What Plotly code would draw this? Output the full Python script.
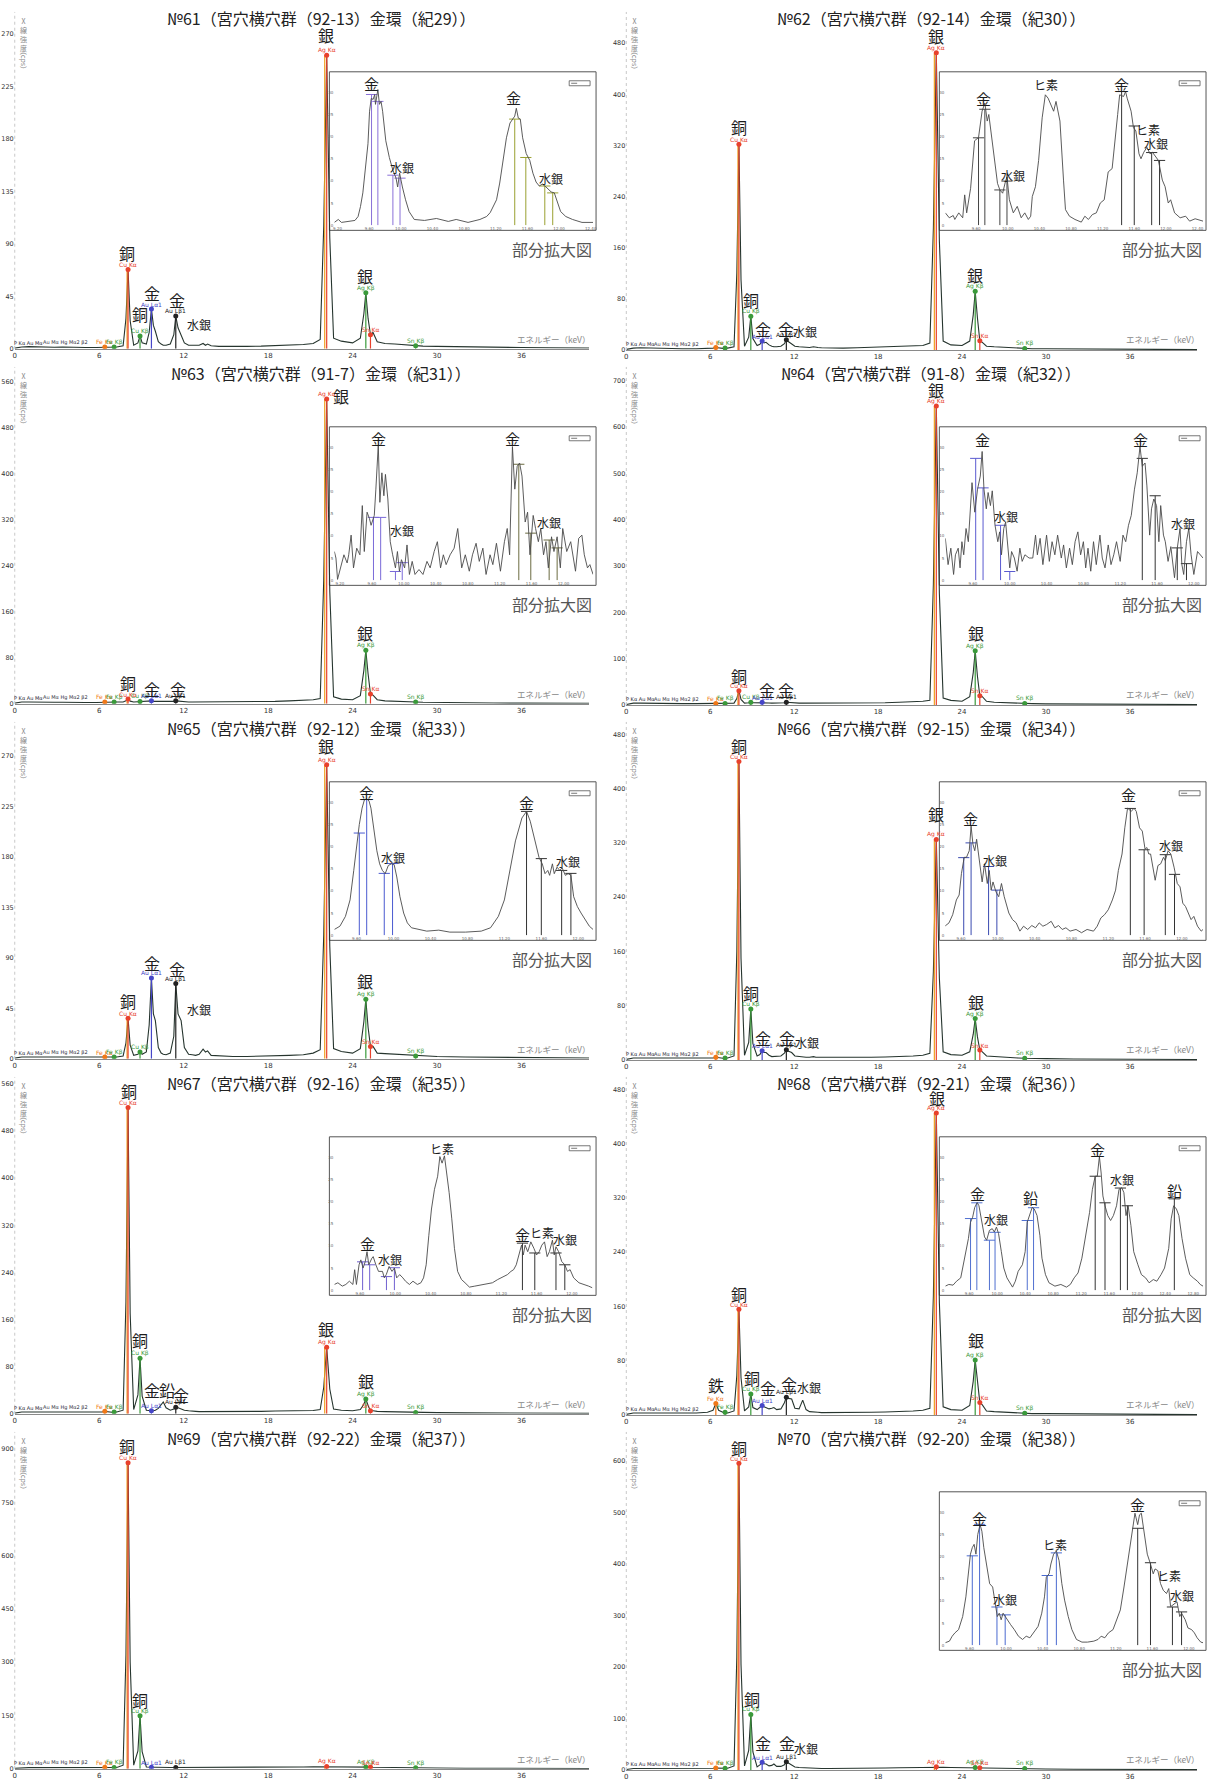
import plotly.graph_objects as go

W, H = 1216, 1781
ROW = 356
JP = "Noto Sans CJK JP"

# ---------------- main spectra (energy keV / counts cps) ----------------
E_MAIN = [0.0, 0.5, 1.0, 1.6, 2.2, 2.8, 3.4, 4.0, 5.0, 5.8,
          6.2, 6.4, 6.6, 6.9, 7.06, 7.25, 7.7, 7.9, 8.05, 8.2,
          8.45, 8.75, 8.9, 9.05, 9.35, 9.55, 9.71, 9.85, 9.99, 10.2,
          10.4, 10.55, 10.75, 11.05, 11.3, 11.44, 11.6, 11.82, 12.05, 12.35,
          12.61, 12.85, 13.1, 13.38, 13.55, 13.7, 13.95, 14.5, 15.5, 16.5,
          17.5, 18.5, 19.5, 20.5, 21.2, 21.7, 21.95, 22.16, 22.38, 22.65,
          23.2, 24.0, 24.55, 24.8, 24.94, 25.1, 25.27, 25.45, 25.75, 26.3,
          27.0, 28.0, 28.48, 29.0, 30.0, 32.0, 34.0, 36.0, 38.0, 40.8]

C61 = [0.5, 1.5, 1.8, 1.5, 1.6, 1.3, 1.5, 1.2, 1.0, 1.0,
       1.2, 1.5, 1.2, 1.2, 1.5, 1.5, 2.5, 26, 68, 24,
       3, 5, 11, 5, 4, 14, 34, 20, 15, 6,
       4, 3, 3, 4, 12, 28, 18, 11, 5, 3,
       3, 2.5, 3, 4.5, 3, 4, 2.5, 2, 1.8, 2,
       2.2, 2.6, 3, 3.6, 4.5, 8, 105, 252, 95, 9,
       6.5, 5, 9, 30, 48, 26, 12, 14, 6, 4.5,
       4, 3, 2.5, 2.2, 2, 1.5, 1.2, 1, 0.8, 0.6]
C62 = [1, 3, 3.5, 3, 3, 2.5, 2.5, 2, 2, 2,
       3, 4, 3, 2.5, 3, 3, 5, 120, 322, 110,
       6, 20, 53, 18, 7, 9, 14, 11, 12, 8,
       6, 5, 5, 6, 10, 16, 13, 9, 6, 5,
       4.5, 4, 4, 5, 4, 4, 3.5, 3, 3, 3.5,
       4, 4.5, 5, 6, 7, 11, 190, 465, 170, 14,
       8, 7, 14, 55, 92, 50, 14.5, 12, 6, 5,
       4, 3, 2.5, 2, 2, 1.5, 1.2, 1, 1, 0.8]
C63 = [1, 3, 3, 2.5, 3, 2.5, 2.5, 2, 2, 2,
       2.5, 3, 2.5, 2.5, 3, 3, 3, 5, 8, 4.5,
       3, 3.5, 4, 3.5, 3.5, 4, 5, 4, 4, 3.5,
       3, 3, 3, 3.5, 4, 5, 4.5, 4, 3.5, 3,
       3, 3, 3, 3, 3, 3, 3, 3, 3, 3.5,
       4, 4, 5, 6, 7, 9, 215, 530, 195, 12,
       8, 7, 14, 58, 93, 52, 17, 15, 7, 5,
       4, 3.5, 3, 2.5, 2, 1.5, 1.2, 1, 1, 0.8]
C64 = [1, 4, 4, 3.5, 3.5, 3, 3, 3, 3, 3,
       3, 3.5, 3, 3, 3.5, 3, 4, 14, 31, 12,
       4, 5, 6, 5, 5, 5.5, 6, 5.5, 5, 4.5,
       4, 4, 4, 4.5, 5, 6, 5.5, 5, 4.5, 4,
       4, 4, 4, 4, 4, 4, 4, 3.5, 3.5, 4,
       4.5, 5, 6, 7, 8, 10, 260, 645, 240, 15,
       10, 8, 18, 70, 117, 62, 20, 18, 8, 6,
       5, 4, 3.5, 3, 2.5, 2, 1.5, 1.2, 1, 1]
C65 = [0.5, 1.5, 1.5, 1.5, 1.8, 1.5, 1.5, 1.2, 1.2, 1.2,
       1.2, 1.5, 1.2, 1.2, 1.5, 1.5, 2.5, 14, 36, 12,
       3, 4, 6, 4, 6, 30, 72, 40, 34, 10,
       5, 4, 3.5, 5, 20, 67, 40, 34, 10, 4,
       3.5, 3, 4, 8.6, 6, 7, 3, 2.5, 2, 2,
       2.2, 2.6, 3, 3.6, 5, 8, 110, 262, 100, 9,
       6.5, 5, 9, 33, 53, 28, 11, 11, 5, 4.5,
       4, 3, 2.5, 2.2, 2, 1.5, 1.2, 1, 0.8, 0.6]
C66 = [1, 3, 3, 3, 3, 2.5, 2.5, 2, 2, 2,
       3, 4, 3, 2.5, 3, 3, 6, 160, 440, 150,
       7, 26, 75, 24, 6, 8, 13.7, 11, 11, 7,
       5, 5, 5, 6, 10, 15, 13, 11, 6, 5,
       5, 4, 4, 5, 4, 4, 3.5, 3, 3, 3.5,
       4, 4.5, 5, 6, 7, 10, 130, 325, 120, 12,
       8, 7, 12, 38, 61, 34, 14.7, 12, 6, 5,
       4, 3, 2.5, 2, 2, 1.5, 1.2, 1, 1, 0.8]
C67 = [1, 3, 3, 3, 3, 2.5, 2.5, 2, 2, 2,
       3, 4, 3, 2.5, 3, 3, 6, 190, 520, 170,
       7, 32, 94, 30, 6, 5, 5, 5, 6, 9,
       15, 20, 10, 6, 8, 11, 10, 8, 6, 5,
       5, 4, 3.5, 3.5, 3, 3, 3, 3, 3, 3.5,
       4, 4.5, 5, 5, 5.5, 7, 45, 113, 42, 8,
       6, 5, 7, 16, 25, 14, 5, 5, 4, 3.5,
       3, 2.5, 2.2, 2, 1.8, 1.5, 1.2, 1, 1, 0.8]
C68 = [1, 3, 3, 3, 3, 2.5, 2.5, 2.5, 3, 4,
       7, 17, 7, 4, 4, 3, 6, 58, 156, 55,
       6, 12, 31, 11, 8, 12, 14, 12, 11, 9,
       10, 11, 8, 9, 18, 26, 24.5, 23.5, 10, 9,
       22, 8, 5, 5, 4, 4, 3.5, 3.5, 3, 3.5,
       4, 4.5, 5, 6, 7, 10, 175, 445, 165, 12,
       8, 7, 14, 50, 81, 45, 18.6, 15, 6, 5,
       4, 3, 2.5, 2, 2, 1.5, 1.2, 1, 1, 0.8]
C69 = [1, 3, 3, 3, 3, 2.5, 2.5, 2.5, 2.5, 3,
       3.5, 4, 3.5, 3, 3.5, 3.5, 10, 320, 862, 300,
       10, 50, 149, 48, 5, 4, 4, 4, 4, 3.5,
       3.5, 3.5, 3.5, 3.5, 3.5, 3.5, 3.5, 3.5, 3.5, 3.5,
       3.5, 3, 3, 3, 3, 3, 3, 3, 3, 3.5,
       4, 4, 4.5, 5, 5.5, 5.5, 6, 6.5, 6, 5.5,
       5, 4.5, 4.5, 4.7, 4.7, 4.5, 4.5, 4, 4, 3.5,
       3, 3, 3, 2.5, 2, 1.5, 1.2, 1, 1, 0.8]
C70 = [1, 3, 3, 3, 3, 2.5, 2.5, 2.5, 2.5, 3,
       3.5, 4, 3.5, 3, 3.5, 3.5, 8, 220, 596, 205,
       8, 38, 108, 35, 6, 10, 15, 12, 11.6, 8,
       9, 11.6, 7, 7, 10, 16, 13, 10, 6, 5,
       4.5, 4, 3.5, 3.5, 3.5, 3.5, 3, 3, 3, 3.5,
       4, 4, 4.5, 5, 5.5, 6, 6.5, 6.5, 6, 5.5,
       5, 4.5, 4.5, 5, 5, 4.5, 4.5, 4, 4, 3.5,
       3, 3, 3, 2.5, 2, 1.5, 1.2, 1, 1, 0.8]

TITLES = ["№61（宮穴横穴群（92-13）金環（紀29））", "№62（宮穴横穴群（92-14）金環（紀30））",
          "№63（宮穴横穴群（91-7）金環（紀31））", "№64（宮穴横穴群（91-8）金環（紀32））",
          "№65（宮穴横穴群（92-12）金環（紀33））", "№66（宮穴横穴群（92-15）金環（紀34））",
          "№67（宮穴横穴群（92-16）金環（紀35））", "№68（宮穴横穴群（92-21）金環（紀36））",
          "№69（宮穴横穴群（92-22）金環（紀37））", "№70（宮穴横穴群（92-20）金環（紀38））"]

Y_STEP = [45, 80, 80, 100, 45, 80, 80, 80, 150, 100]
Y_TOP = [270, 480, 560, 700, 270, 480, 560, 480, 900, 600]
X_TICKS = [0, 6, 12, 18, 24, 30, 36]

# element labels: (text, energy, counts, font size)
L61 = [("銀", 22.1, 267, 16), ("銅", 8.0, 80, 16), ("銅", 8.88, 27, 16), ("金", 9.78, 45, 16),
       ("金", 11.56, 39, 16), ("水銀", 13.07, 18, 12), ("銀", 24.91, 60, 16)]
L62 = [("銀", 22.13, 486, 16), ("銅", 8.05, 344, 16), ("銅", 8.9, 73, 16), ("金", 9.78, 28, 16),
       ("金", 11.44, 28, 16), ("水銀", 12.8, 24, 12), ("銀", 24.94, 113, 16)]
L63 = [("銀", 23.2, 530, 16), ("銅", 8.06, 31, 16), ("金", 9.73, 20, 16), ("金", 11.59, 20, 16),
       ("銀", 24.91, 117, 16)]
L64 = [("銀", 22.13, 673, 16), ("銅", 8.05, 56, 16), ("金", 10.06, 27, 16), ("金", 11.44, 27, 16),
       ("銀", 24.99, 148, 16)]
L65 = [("銀", 22.1, 276, 16), ("銅", 8.06, 49, 16), ("金", 9.73, 83, 16), ("金", 11.5, 77, 16),
       ("水銀", 13.07, 41, 12), ("銀", 24.91, 67, 16)]
L66 = [("銅", 8.05, 458, 16), ("銀", 22.13, 358, 16), ("銅", 8.9, 94, 16), ("金", 9.78, 28, 16),
       ("金", 11.52, 28, 16), ("水銀", 12.9, 22, 12), ("銀", 24.99, 81, 16)]
L67 = [("銅", 8.14, 543, 16), ("銅", 8.9, 120, 16), ("金", 9.73, 36, 16), ("鉛", 10.83, 36, 16),
       ("金", 11.84, 26, 16), ("銀", 22.1, 138, 16), ("銀", 24.93, 50, 16)]
L68 = [("銀", 22.18, 462, 16), ("銅", 8.08, 174, 16), ("鉄", 6.42, 40, 16), ("銅", 8.98, 50, 16),
       ("金", 10.11, 36, 16), ("金", 11.63, 42, 16), ("水銀", 13.09, 36, 12), ("銀", 25.02, 106, 16)]
L69 = [("銅", 8.0, 900, 16), ("銅", 8.9, 184, 16)]
L70 = [("銅", 8.08, 620, 16), ("銅", 8.96, 133, 16), ("金", 9.78, 47, 16), ("金", 11.49, 47, 16),
       ("水銀", 12.87, 36, 12)]

# characteristic lines marked in the main spectra
ML_NAMES = ["Fe Kα", "Fe Kβ", "Cu Kα", "Cu Kβ", "Au Lα1", "Au Lβ1", "Ag Kα", "Ag Kβ", "Sn Kα", "Sn Kβ"]
ML_ENERGY = [6.4, 7.06, 8.05, 8.9, 9.71, 11.44, 22.16, 24.94, 25.27, 28.48]
ML_COLOR = ["#f07818", "#3a9a3a", "#e8412c", "#3a9a3a", "#4646c8", "#222222",
            "#e8412c", "#3a9a3a", "#e8412c", "#3a9a3a"]
KA2_ENERGY = [7.98, 22.02]
KA2_PARENT = [8.05, 22.16]
LOW_TEXT = [("P Kα Au Mα", 1.0, "#223"), ("Au Mα Hg Mα2 β2", 3.6, "#334")]

# observed pixel row (from panel top) of the highest y tick, used to size each y range
Y_TOP_PX = [34.3, 43.3, 26.7, 25.7, 46.0, 24.3, 19.0, 24.3, 29.3, 41.3]

# ---------------- insets (energy keV / relative intensity) ----------------
I61_E = [9.16, 9.21, 9.25, 9.335, 9.42, 9.46, 9.49, 9.52, 9.55, 9.585, 9.605, 9.626, 9.65, 9.67, 9.68,
         9.70, 9.71, 9.73, 9.75, 9.77, 9.79, 9.81, 9.855, 9.90, 9.94, 9.96, 9.985, 10.00, 10.02, 10.06,
         10.105, 10.17, 10.3, 10.45, 10.6, 10.7, 10.85, 11.0, 11.085, 11.13, 11.17, 11.21, 11.25, 11.29,
         11.335, 11.38, 11.41, 11.44, 11.46, 11.485, 11.51, 11.54, 11.585, 11.63, 11.67, 11.71, 11.75,
         11.79, 11.835, 11.90, 11.94, 11.98, 12.02, 12.085, 12.17, 12.29, 12.43]
I61_V = [3, 6, 3, 4, 5, 9, 19, 33, 56, 83, 116, 129, 128, 133, 123, 134, 138, 123, 126, 116, 103, 86,
         69, 56, 48, 39, 53, 46, 39, 26, 14, 6, 5, 7, 4, 6, 3, 6, 9, 13, 19, 26, 43, 66, 89, 104, 108,
         111, 119, 109, 108, 89, 73, 66, 53, 44, 40, 42, 39, 34, 33, 23, 14, 9, 6, 3, 3]
I62_E = [9.21, 9.26, 9.31, 9.33, 9.38, 9.43, 9.455, 9.48, 9.53, 9.58, 9.63, 9.65, 9.675, 9.71, 9.74,
         9.76, 9.80, 9.84, 9.87, 9.90, 9.935, 9.97, 9.99, 10.02, 10.07, 10.12, 10.17, 10.215, 10.26, 10.29,
         10.31, 10.35, 10.39, 10.435, 10.475, 10.51, 10.56, 10.58, 10.61, 10.66, 10.705, 10.73, 10.78,
         10.85, 10.93, 10.975, 11.02, 11.07, 11.12, 11.17, 11.22, 11.27, 11.32, 11.36, 11.39, 11.415,
         11.465, 11.49, 11.51, 11.56, 11.59, 11.62, 11.66, 11.685, 11.72, 11.76, 11.80, 11.83, 11.87,
         11.905, 11.955, 11.99, 12.03, 12.06, 12.11, 12.18, 12.25, 12.30, 12.37, 12.47]
I62_V = [12.7, 7.7, 10, 6, 12.7, 7.7, 31, 12.7, 37.7, 86, 89.3, 99.3, 116, 124.3, 106, 112.7, 86, 59.3,
         42.7, 36, 32.7, 44.3, 49.3, 26, 12.7, 19.3, 7.7, 12.7, 6, 9.3, 29.3, 39.3, 66, 109.3, 132.7,
         129.3, 119.3, 116, 126, 106, 46, 16, 9.3, 6, 3.3, 9.3, 6, 11, 12.7, 22.7, 26, 54.3, 57.7, 86,
         112.7, 132.7, 131, 136, 129.3, 116, 99.3, 96, 72.7, 67.7, 74.3, 79.3, 72.7, 74.3, 69.3, 66, 46,
         39.3, 22.7, 26, 12.7, 7.7, 9.3, 4.3, 6.7, 4.3]
I63_E = [9.13, 9.15, 9.17, 9.21, 9.25, 9.29, 9.31, 9.34, 9.37, 9.41, 9.45, 9.48, 9.505, 9.54, 9.57, 9.59,
         9.63, 9.65, 9.68, 9.70, 9.725, 9.75, 9.77, 9.80, 9.83, 9.86, 9.895, 9.92, 9.945, 9.97, 10.01,
         10.04, 10.07, 10.105, 10.14, 10.19, 10.24, 10.29, 10.33, 10.38, 10.42, 10.46, 10.495, 10.53,
         10.58, 10.63, 10.675, 10.725, 10.77, 10.82, 10.86, 10.905, 10.945, 10.99, 11.03, 11.08, 11.115,
         11.16, 11.21, 11.26, 11.295, 11.325, 11.345, 11.36, 11.39, 11.42, 11.45, 11.48, 11.52, 11.55,
         11.58, 11.62, 11.65, 11.685, 11.715, 11.75, 11.78, 11.81, 11.85, 11.88, 11.92, 11.96, 11.99,
         12.04, 12.09, 12.115, 12.15, 12.19, 12.23, 12.26, 12.30, 12.33, 12.37]
I63_V = [29.3, 22.7, 1, 12.7, 26, 17.7, 26, 46, 12.7, 32.7, 26, 76, 29.3, 69.3, 62.7, 56, 66, 92.7, 137.7,
         79.3, 109.3, 86, 107.7, 82.7, 39.3, 26, 12.7, 29.3, 9.3, 21, 12.7, 36, 6, 19.3, 6, 11, 6, 19.3,
         12.7, 29.3, 39.3, 12.7, 26, 16, 26, 32.7, 52.7, 12.7, 26, 9.3, 26, 37.7, 19.3, 32.7, 6, 26, 16,
         37.7, 9.3, 39.3, 52.7, 26, 86, 136, 92.7, 116, 119.3, 106, 59.3, 69.3, 26, 66, 52.7, 39.3, 52.7,
         26, 39.3, 12.7, 44.3, 29.3, 44.3, 12.7, 52.7, 29.3, 39.3, 26, 9.3, 42.7, 46, 26, 12.7, 16, 6]
I64_E = [9.30, 9.33, 9.36, 9.39, 9.41, 9.44, 9.46, 9.48, 9.50, 9.525, 9.55, 9.57, 9.59, 9.62, 9.65, 9.68,
         9.70, 9.72, 9.745, 9.765, 9.79, 9.81, 9.84, 9.87, 9.89, 9.91, 9.935, 9.955, 9.975, 10.0, 10.02,
         10.05, 10.08, 10.11, 10.135, 10.165, 10.21, 10.25, 10.28, 10.30, 10.33, 10.36, 10.40, 10.43,
         10.46, 10.49, 10.52, 10.56, 10.585, 10.615, 10.65, 10.68, 10.71, 10.74, 10.77, 10.80, 10.825,
         10.85, 10.88, 10.91, 10.94, 10.98, 11.005, 11.035, 11.07, 11.10, 11.13, 11.16, 11.20, 11.23,
         11.26, 11.29, 11.32, 11.355, 11.385, 11.415, 11.44, 11.47, 11.49, 11.52, 11.54, 11.565, 11.595,
         11.62, 11.64, 11.67, 11.69, 11.72, 11.75, 11.78, 11.79, 11.82, 11.85, 11.87, 11.89, 11.92,
         11.945, 11.97, 12.0, 12.04, 12.07, 12.10]
I64_V = [42.7, 16, 32.7, 6, 26, 32.7, 12.7, 39.3, 26, 52.7, 39.3, 69.3, 99.3, 69.3, 92.7, 106, 131, 92.7,
         72.7, 89.3, 76, 91, 56, 39.3, 49.3, 26, 52.7, 59.3, 39.3, 12.7, 29.3, 22.7, 9.3, 32.7, 19.3, 26,
         22.7, 22.7, 46, 26, 42.7, 16, 46, 19.3, 39.3, 26, 46, 22.7, 36, 12.7, 32.7, 16, 39.3, 49.3, 26,
         39.3, 12.7, 32.7, 9.3, 39.3, 16, 46, 22.7, 12.7, 36, 16, 26, 39.3, 19.3, 46, 39.3, 56, 66, 92.7,
         109.3, 136, 116, 119.3, 96, 46, 72.7, 82.7, 76, 39.3, 76, 46, 39.3, 19.3, 34.3, 12.7, 2.7, 32.7,
         52.7, 16, 6, 39.3, 52.7, 26, 6, 29.3, 26, 22.7]
I65_E = [9.36, 9.42, 9.48, 9.53, 9.57, 9.60, 9.63, 9.66, 9.685, 9.71, 9.735, 9.756, 9.785, 9.82, 9.85,
         9.88, 9.91, 9.944, 9.977, 10.007, 10.036, 10.07, 10.11, 10.15, 10.195, 10.28, 10.36, 10.49,
         10.61, 10.78, 10.95, 11.05, 11.135, 11.20, 11.26, 11.32, 11.39, 11.44, 11.48, 11.52, 11.575,
         11.61, 11.64, 11.67, 11.69, 11.72, 11.74, 11.77, 11.80, 11.825, 11.86, 11.89, 11.92, 11.95,
         11.99, 12.03, 12.075, 12.12, 12.16]
I65_V = [6, 9.3, 19.3, 36, 66, 92.7, 112.7, 129.3, 137.7, 138.7, 136.7, 129.3, 109.3, 86, 72.7, 66, 62.7,
         71, 72.7, 72, 59.3, 39.3, 22.7, 12.7, 7.7, 6, 4.3, 5.3, 3.3, 3.3, 4.3, 7.7, 19.3, 36, 66, 96,
         119.3, 126, 116, 99.3, 79.3, 72.7, 62.7, 66, 61, 72.7, 62.7, 69.3, 66, 68.7, 61, 62.7, 61, 39.3,
         29.3, 22.7, 16, 9.3, 6]
I66_E = [9.425, 9.47, 9.51, 9.55, 9.58, 9.605, 9.635, 9.66, 9.69, 9.71, 9.73, 9.75, 9.77, 9.80, 9.83,
         9.856, 9.886, 9.907, 9.928, 9.948, 9.98, 10.01, 10.04, 10.07, 10.12, 10.16, 10.20, 10.24, 10.28,
         10.325, 10.37, 10.41, 10.45, 10.49, 10.53, 10.58, 10.62, 10.66, 10.70, 10.74, 10.785, 10.85,
         10.91, 10.97, 11.04, 11.08, 11.12, 11.16, 11.20, 11.245, 11.28, 11.31, 11.35, 11.38, 11.41,
         11.45, 11.48, 11.505, 11.54, 11.57, 11.60, 11.62, 11.64, 11.66, 11.69, 11.71, 11.74, 11.77,
         11.80, 11.82, 11.85, 11.88, 11.915, 11.95, 11.98, 12.01, 12.04, 12.07, 12.10, 12.13, 12.17,
         12.21, 12.23]
I66_V = [9.3, 12.7, 21, 36, 41, 62.7, 79.3, 79.3, 86, 111, 92.7, 86, 97.7, 72.7, 54.3, 72.7, 52.7, 66, 46,
         54.3, 44.3, 39.3, 52.7, 39.3, 22.7, 16, 12.7, 4.3, 9.3, 6, 10, 7.7, 12.7, 9.3, 11, 14.3, 7.7, 10,
         6, 7.7, 4.3, 6, 2.7, 6, 4.3, 9.3, 17.7, 21, 26, 36, 46, 66, 82.7, 109.3, 129.3, 126, 129.3, 126,
         109.3, 106, 87.7, 89.3, 82.7, 82.7, 66, 56, 71, 72.7, 79.3, 76, 86, 82.7, 69.3, 52.7, 49.3, 32.7,
         29.3, 22.7, 16, 19.3, 9.3, 4.3, 6]
I67_E = [9.31, 9.35, 9.40, 9.44, 9.48, 9.52, 9.54, 9.56, 9.59, 9.61, 9.635, 9.66, 9.68, 9.70, 9.735, 9.75,
         9.78, 9.81, 9.855, 9.876, 9.898, 9.93, 9.963, 9.99, 10.016, 10.05, 10.086, 10.116, 10.16, 10.20,
         10.25, 10.29, 10.32, 10.35, 10.38, 10.41, 10.444, 10.48, 10.505, 10.53, 10.557, 10.58, 10.61,
         10.64, 10.67, 10.706, 10.75, 10.79, 10.84, 10.90, 10.97, 11.03, 11.10, 11.16, 11.23, 11.27,
         11.31, 11.34, 11.37, 11.40, 11.43, 11.45, 11.47, 11.50, 11.535, 11.57, 11.60, 11.63, 11.66,
         11.69, 11.72, 11.745, 11.78, 11.80, 11.82, 11.85, 11.885, 11.92, 11.95, 11.98, 12.02, 12.08,
         12.15, 12.19, 12.23]
I67_V = [6, 7.7, 4.3, 6, 9.3, 6, 21, 6, 26, 31, 22.7, 29.3, 39.3, 26, 32.7, 34.3, 26, 19.3, 19.3, 12.7,
         16, 24.3, 19.3, 22.7, 12.7, 16, 12.7, 9.3, 6, 9.3, 6, 7.7, 12.7, 26, 56, 82.7, 102.7, 116, 136,
         129.3, 136.7, 122.7, 99.3, 72.7, 42.7, 19.3, 11, 7.7, 3.3, 4.3, 5.3, 6.7, 7.7, 11, 14.3, 16,
         19.3, 21, 26, 36, 46, 36, 46, 39.3, 49.3, 42.7, 36, 39.3, 46, 49.3, 34.3, 39.3, 51, 36, 44.3,
         39.3, 29.3, 26, 19.3, 21, 12.7, 7.7, 6, 4.3, 2.7]
I68_E = [9.26, 9.31, 9.37, 9.42, 9.48, 9.51, 9.55, 9.59, 9.62, 9.65, 9.68, 9.715, 9.74, 9.78, 9.82, 9.85,
         9.89, 9.93, 9.96, 9.99, 10.02, 10.06, 10.095, 10.14, 10.18, 10.22, 10.26, 10.30, 10.36, 10.40,
         10.43, 10.47, 10.50, 10.53, 10.57, 10.61, 10.64, 10.69, 10.74, 10.825, 10.91, 10.99, 11.045,
         11.10, 11.155, 11.21, 11.265, 11.32, 11.36, 11.40, 11.43, 11.46, 11.485, 11.51, 11.54, 11.58,
         11.62, 11.66, 11.705, 11.74, 11.78, 11.81, 11.84, 11.87, 11.91, 11.95, 12.01, 12.06, 12.12,
         12.17, 12.23, 12.28, 12.34, 12.39, 12.45, 12.485, 12.52, 12.56, 12.595, 12.64, 12.69, 12.75,
         12.80, 12.86, 12.90, 12.94]
I68_V = [4.3, 6, 5.3, 9.3, 12.7, 22.7, 36, 52.7, 69.3, 74.3, 84.3, 89.3, 86, 69.3, 54.3, 51, 61, 62.7,
         59.3, 64.3, 57.7, 39.3, 22.7, 12.7, 7.7, 3.3, 9.3, 19.3, 26, 39.3, 69.3, 79.3, 84.3, 82.7, 76, 56,
         32.7, 16, 7.7, 4.3, 6, 3.3, 6, 12.7, 17.7, 32.7, 56, 79.3, 102.7, 116, 116, 136, 119.3, 96, 86,
         76, 71, 76, 86, 102.7, 104.3, 99.3, 76, 86, 66, 39.3, 26, 16, 12.7, 7.7, 11, 9.3, 16, 22.7, 42.7,
         72.7, 86, 82.7, 76, 52.7, 32.7, 16, 12.7, 9.3, 6, 4.3]
I70_E = [9.335, 9.38, 9.41, 9.44, 9.48, 9.525, 9.56, 9.59, 9.61, 9.63, 9.65, 9.67, 9.69, 9.715, 9.735,
         9.756, 9.786, 9.82, 9.853, 9.883, 9.904, 9.925, 9.946, 9.967, 9.99, 10.017, 10.05, 10.09, 10.135,
         10.18, 10.22, 10.26, 10.30, 10.35, 10.39, 10.42, 10.44, 10.47, 10.49, 10.52, 10.55, 10.58, 10.61,
         10.64, 10.68, 10.72, 10.77, 10.83, 10.89, 10.96, 11.006, 11.04, 11.08, 11.12, 11.17, 11.21,
         11.25, 11.29, 11.335, 11.38, 11.41, 11.44, 11.46, 11.48, 11.51, 11.545, 11.58, 11.61, 11.63,
         11.66, 11.69, 11.72, 11.755, 11.78, 11.80, 11.82, 11.85, 11.87, 11.90, 11.92, 11.96, 11.99,
         12.03, 12.06, 12.09, 12.13, 12.155]
I70_V = [2.7, 4.3, 9.3, 12.7, 16, 29.3, 49.3, 72.7, 92.7, 99.3, 102.7, 92.7, 112.7, 122.7, 116, 99.3,
         82.7, 62.7, 59.3, 39.3, 29.3, 32.7, 26, 32.7, 29.3, 26, 21, 16, 9.3, 6, 9.3, 7.7, 12.7, 19.3, 32.7,
         49.3, 69.3, 72.7, 82.7, 92.7, 96, 86, 62.7, 46, 29.3, 16, 6, 3.3, 3.3, 4.3, 6, 9.3, 7.7, 12.7,
         16, 26, 36, 59.3, 86, 116, 134.3, 122.7, 132.7, 134.3, 112.7, 92.7, 82.7, 72.7, 77.7, 76, 62.7,
         56, 52.7, 57.7, 39.3, 41, 42.7, 44.3, 29.3, 32.7, 26, 17.7, 16, 12.7, 7.7, 3.3, 2.7]

# inset energy windows
XR61, XR62, XR63 = [9.16, 12.43], [9.21, 12.47], [9.13, 12.37]
XR64, XR65, XR66 = [9.30, 12.10], [9.36, 12.16], [9.43, 12.23]
XR67, XR68, XR70 = [9.31, 12.24], [9.26, 12.94], [9.335, 12.155]

# inset marker lines (energy, relative height): L-alpha group / L-beta group
IA61 = [(9.63, 133), (9.71, 126), (9.90, 51), (9.99, 48)]
IB61 = [(11.44, 108), (11.58, 69), (11.82, 40), (11.92, 33)]
IA62 = [(9.63, 89), (9.71, 118), (9.90, 36), (9.99, 45)]
IB62 = [(11.44, 136), (11.6, 101), (11.82, 74), (11.92, 66)]
IA63 = [(9.62, 64), (9.71, 64), (9.895, 9), (9.98, 18)]
IB63 = [(11.44, 118), (11.59, 48), (11.82, 41), (11.92, 33)]
IA64 = [(9.63, 124), (9.71, 94), (9.90, 56), (10.0, 9)]
IB64 = [(11.44, 124), (11.58, 86), (11.82, 33), (11.92, 17)]
IA65 = [(9.63, 104), (9.71, 138), (9.90, 63), (9.99, 73)]
IB65 = [(11.44, 126), (11.6, 78), (11.82, 66), (11.92, 63)]
IA66 = [(9.63, 79), (9.71, 94), (9.90, 70), (9.99, 46)]
IB66 = [(11.44, 129), (11.59, 87), (11.82, 82), (11.92, 62)]
IA67 = [(9.63, 29), (9.71, 26), (9.90, 14), (9.99, 23)]
IB67 = [(11.44, 48), (11.58, 38), (11.82, 38), (11.92, 26)]
IA68 = [(9.62, 73), (9.71, 89), (9.89, 51), (9.97, 59), (10.43, 71), (10.52, 84)]
IB68 = [(11.40, 116), (11.54, 89), (11.76, 104), (11.86, 86), (12.53, 93)]
IA70 = [(9.63, 91), (9.71, 123), (9.90, 39), (9.99, 31), (10.45, 71), (10.55, 94)]
IB70 = [(11.44, 119), (11.58, 84), (11.82, 39), (11.92, 34)]

# inset element labels (text, energy, relative height, size)
IL61 = [("金", 9.635, 144, 15), ("水銀", 10.01, 59, 12), ("金", 11.43, 130, 15), ("水銀", 11.90, 48, 12)]
IL62 = [("金", 9.69, 129, 15), ("水銀", 10.07, 51, 12), ("ヒ素", 10.48, 143, 12), ("金", 11.44, 143, 15),
        ("ヒ素", 11.78, 97, 12), ("水銀", 11.88, 83, 12)]
IL63 = [("金", 9.68, 144, 15), ("水銀", 9.98, 51, 12), ("金", 11.36, 144, 15), ("水銀", 11.82, 59, 12)]
IL64 = [("金", 9.70, 143, 15), ("水銀", 9.955, 65, 12), ("金", 11.42, 143, 15), ("水銀", 11.88, 58, 12)]
IL65 = [("金", 9.71, 145, 15), ("水銀", 9.99, 79, 12), ("金", 11.44, 135, 15), ("水銀", 11.89, 75, 12)]
IL66 = [("金", 9.70, 119, 15), ("水銀", 9.97, 76, 12), ("金", 11.42, 143, 15), ("水銀", 11.88, 91, 12)]
IL67 = [("金", 9.69, 48, 15), ("水銀", 9.94, 31, 12), ("ヒ素", 10.53, 144, 12), ("金", 11.44, 57, 15),
        ("ヒ素", 11.66, 59, 12), ("水銀", 11.92, 52, 12)]
IL68 = [("金", 9.72, 98, 15), ("水銀", 9.99, 72, 12), ("鉛", 10.48, 94, 15), ("金", 11.44, 143, 15),
        ("水銀", 11.78, 113, 12), ("鉛", 12.53, 102, 15)]
IL70 = [("金", 9.71, 129, 15), ("水銀", 9.99, 47, 12), ("ヒ素", 10.53, 103, 12), ("金", 11.44, 143, 15),
        ("ヒ素", 11.78, 71, 12), ("水銀", 11.93, 51, 12)]

COUNTS = [C61, C62, C63, C64, C65, C66, C67, C68, C69, C70]
LABELS = [L61, L62, L63, L64, L65, L66, L67, L68, L69, L70]
# (panel index, E, V, range, A lines, B lines, labels, A colour, B colour)
INSETS = [(0, I61_E, I61_V, XR61, IA61, IB61, IL61, "#8a70d8", "#9aa030"),
          (1, I62_E, I62_V, XR62, IA62, IB62, IL62, "#444444", "#333333"),
          (2, I63_E, I63_V, XR63, IA63, IB63, IL63, "#7a6ad8", "#6b6b40"),
          (3, I64_E, I64_V, XR64, IA64, IB64, IL64, "#5a5ad0", "#333333"),
          (4, I65_E, I65_V, XR65, IA65, IB65, IL65, "#4a5ad0", "#333333"),
          (5, I66_E, I66_V, XR66, IA66, IB66, IL66, "#3a4ab0", "#333333"),
          (6, I67_E, I67_V, XR67, IA67, IB67, IL67, "#7060d0", "#333333"),
          (7, I68_E, I68_V, XR68, IA68, IB68, IL68, "#5070d0", "#333333"),
          (9, I70_E, I70_V, XR70, IA70, IB70, IL70, "#4a6ad0", "#333333")]


def fx(p):
    return p / W


def fy(p):
    return 1 - p / H


def paper_text(x, y, text, size, color, xanchor="center", yanchor="middle", angle=0, family=JP):
    return dict(x=fx(x), y=fy(y), xref="paper", yref="paper", xanchor=xanchor, yanchor=yanchor,
                text=text, showarrow=False, textangle=angle, font=dict(size=size, color=color, family=family))


fig = go.Figure()
layout = dict(width=W, height=H, margin=dict(l=0, r=0, t=0, b=0), paper_bgcolor="white",
              plot_bgcolor="white", showlegend=False, font=dict(family=JP))
ann = []
shp = []

for i in range(10):
    row, col = divmod(i, 2)
    T = row * ROW
    n = i + 1
    s = "" if n == 1 else str(n)
    if col == 0:
        X0, X1, YB, OFF, TCX = 12.8, 590.0, 349.7, 0.0, 321.0
    else:
        X0, X1, YB, OFF, TCX = 627.4, 1201.0, 351.0, 608.0, 326.0
    ymax = Y_TOP[i] * (YB - 12) / (YB - Y_TOP_PX[i])
    layout["xaxis" + s] = dict(domain=[fx(X0), fx(X1)], range=[0, 40.8], anchor="y" + s,
                               showgrid=False, zeroline=False, showline=True, linecolor="#8a8a8a",
                               linewidth=1, ticks="", tickvals=X_TICKS,
                               tickfont=dict(size=7, color="#333", family="DejaVu Sans"))
    layout["yaxis" + s] = dict(domain=[fy(T + YB), fy(T + 12)], range=[0, ymax], anchor="x" + s,
                               showgrid=False, zeroline=False, showline=False, ticks="",
                               tickvals=list(range(0, Y_TOP[i] + 1, Y_STEP[i])),
                               tickfont=dict(size=6.5, color="#333", family="DejaVu Sans"))
    xr, yr = "x" + s, "y" + s
    counts = COUNTS[i]
    fig.add_trace(go.Scatter(x=E_MAIN, y=counts, mode="lines", xaxis=xr, yaxis=yr, hoverinfo="skip",
                             line=dict(color="#26352e", width=1.1)))
    for e2, ep in zip(KA2_ENERGY, KA2_PARENT):
        h = counts[E_MAIN.index(ep)]
        fig.add_trace(go.Scatter(x=[e2, e2], y=[0, h], mode="lines", xaxis=xr, yaxis=yr,
                                 hoverinfo="skip", line=dict(color="#f0a020", width=1.2)))
    for name, e, c in zip(ML_NAMES, ML_ENERGY, ML_COLOR):
        h = counts[E_MAIN.index(e)]
        fig.add_trace(go.Scatter(x=[e, e], y=[0, h], mode="lines", xaxis=xr, yaxis=yr,
                                 hoverinfo="skip", line=dict(color=c, width=1.2)))
        fig.add_trace(go.Scatter(x=[e], y=[h], mode="markers", xaxis=xr, yaxis=yr, hoverinfo="skip",
                                 marker=dict(color=c, size=5)))
        ann.append(dict(x=e, y=h, xref=xr, yref=yr, text=name, showarrow=False, yshift=5,
                        font=dict(size=6, color=c, family="DejaVu Sans")))
    for txt, e, c in LOW_TEXT:
        ann.append(dict(x=e, y=0, xref=xr, yref=yr, text=txt, showarrow=False, yshift=6,
                        font=dict(size=5, color=c, family="DejaVu Sans")))
    for txt, e, v, sz in LABELS[i]:
        ann.append(dict(x=e, y=v, xref=xr, yref=yr, text=txt, showarrow=False, yshift=3,
                        font=dict(size=sz, color="#1c1c1c", family=JP)))
    ann.append(paper_text(OFF + TCX, T + 18, TITLES[i], 16, "#222"))
    ann.append(paper_text(OFF + (554 if col == 0 else 558), T + 340, "エネルギー（keV）", 8.5, "#888"))
    ax_x = OFF + (22 if col == 0 else 28)
    ann.append(paper_text(ax_x, T + 14, "X<br>線<br>強<br>度", 7, "#888", yanchor="top"))
    ann.append(paper_text(ax_x, T + 61, "（cps）", 7, "#888", angle=90))
    shp.append(dict(type="line", xref="paper", yref="paper", x0=fx(X0), x1=fx(X0), y0=fy(T + YB),
                    y1=fy(T + 12), line=dict(color="#c8c8c8", width=1, dash="dot")))

for j, (pi, ie, iv, xr_, la, lb, il, ca, cb) in enumerate(INSETS):
    row, col = divmod(pi, 2)
    T = row * ROW
    m = 11 + j
    s = str(m)
    if col == 0:
        F0, F1, P0, P1 = 329, 597, 334, 594
    else:
        F0, F1, P0, P1 = 942, 1210, 948, 1207
    layout["xaxis" + s] = dict(domain=[fx(P0), fx(P1)], range=xr_, anchor="y" + s, showgrid=False,
                               zeroline=False, showline=False, ticks="", dtick=0.4, tick0=9.2,
                               tickformat=".2f", tickfont=dict(size=4, color="#666", family="DejaVu Sans"))
    layout["yaxis" + s] = dict(domain=[fy(T + 226), fy(T + 78)], range=[0, 150], anchor="x" + s,
                               showgrid=False, zeroline=False, showline=False, ticks="",
                               tickvals=[0, 22.5, 45, 67.5, 90, 112.5, 135],
                               ticktext=["0", "5", "10", "15", "20", "25", "30"],
                               tickfont=dict(size=4, color="#666", family="DejaVu Sans"))
    shp.append(dict(type="rect", xref="paper", yref="paper", x0=fx(F0), x1=fx(F1), y0=fy(T + 231),
                    y1=fy(T + 72), line=dict(color="#555", width=1), fillcolor="white", layer="below"))
    shp.append(dict(type="rect", xref="paper", yref="paper", x0=fx(F1 - 27), x1=fx(F1 - 6),
                    y0=fy(T + 86), y1=fy(T + 81), line=dict(color="#555", width=0.8)))
    shp.append(dict(type="line", xref="paper", yref="paper", x0=fx(F1 - 25), x1=fx(F1 - 19),
                    y0=fy(T + 83.5), y1=fy(T + 83.5), line=dict(color="#555", width=0.8)))
    xa, ya = "x" + s, "y" + s
    for lines, c in ((la, ca), (lb, cb)):
        for e, h in lines:
            fig.add_trace(go.Scatter(x=[e, e], y=[0, h], mode="lines", xaxis=xa, yaxis=ya,
                                     hoverinfo="skip", line=dict(color=c, width=1)))
            fig.add_trace(go.Scatter(x=[e], y=[h], mode="markers", xaxis=xa, yaxis=ya, hoverinfo="skip",
                                     marker=dict(symbol="line-ew", size=8,
                                                 line=dict(color=c, width=1))))
    fig.add_trace(go.Scatter(x=ie, y=iv, mode="lines", xaxis=xa, yaxis=ya, hoverinfo="skip",
                             line=dict(color="#4a4a4a", width=0.9)))
    for txt, e, v, sz in il:
        ann.append(dict(x=e, y=v, xref=xa, yref=ya, text=txt, showarrow=False,
                        font=dict(size=sz, color="#1c1c1c", family=JP)))
    ann.append(paper_text(F1 - 2, T + 250, "部分拡大図", 16, "#555", xanchor="right"))

layout["annotations"] = ann
layout["shapes"] = shp
fig.update_layout(**layout)
fig.write_html("out.html")
